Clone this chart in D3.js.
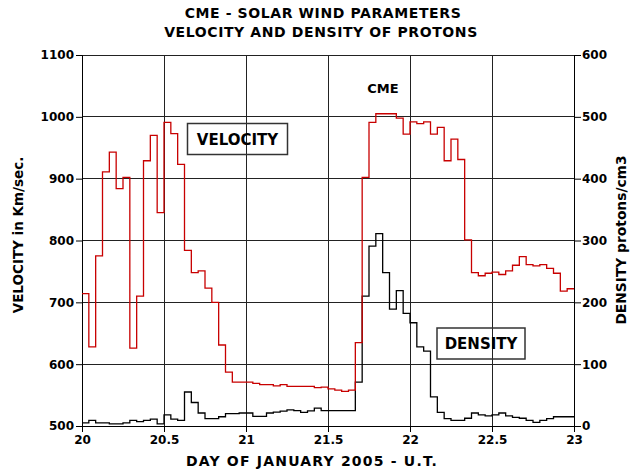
<!DOCTYPE html>
<html>
<head>
<meta charset="utf-8">
<script src="https://cdn.jsdelivr.net/npm/d3@7"></script>
<style>
  body { margin: 0; background: #fff; }
  text { font-family: "DejaVu Sans", sans-serif; font-weight: bold; fill: #000; }
</style>
</head>
<body>
<div id="chart"></div>
<script>
// hourly averages, day 20.0 .. 23.0 (January 2005)
const velocity = [714, 628, 775, 911, 943, 884, 902, 626, 710, 929,
                  970, 845, 991, 973, 923, 784, 748, 751, 723, 700,
                  631, 587, 571, 571, 571, 569, 567, 567, 565, 567,
                  564, 564, 564, 564, 562, 563, 560, 558, 556, 558,
                  635, 902, 991, 1005, 1005, 1005, 998, 972, 992, 989,
                  992, 972, 983, 929, 964, 931, 801, 748, 743, 747,
                  749, 745, 751, 760, 774, 761, 759, 761, 755, 747, 718, 722];
const density = [5, 9, 5, 5, 3.5, 3.5, 5, 9, 7, 9,
                 11, 3.5, 18, 11, 9, 55, 38, 21, 12, 12,
                 15, 20, 20, 21, 21, 15.5, 15.5, 21, 22.5, 24,
                 26, 25, 22, 24.5, 29, 25, 25, 25, 25, 25,
                 71, 210, 291, 311, 248, 189, 219, 182, 167, 128,
                 121, 47, 22, 12, 9, 9, 12.5, 21, 18, 16.5,
                 18, 21, 16.5, 14, 12.5, 9, 6, 9, 12, 15, 15, 15];
const dayTicks = [20, 20.5, 21, 21.5, 22, 22.5, 23];
const velTicks = [500, 600, 700, 800, 900, 1000, 1100];
const denTicks = [0, 100, 200, 300, 400, 500, 600];

const W = 634, H = 470;
const margin = { top: 55, right: 60, bottom: 44, left: 82 };

const svg = d3.select("#chart").append("svg")
    .attr("width", W)
    .attr("height", H);

const x = d3.scaleLinear().domain([20, 23]).range([margin.left, W - margin.right]);
const yV = d3.scaleLinear().domain([500, 1100]).range([H - margin.bottom, margin.top]);
const yD = d3.scaleLinear().domain([0, 600]).range([H - margin.bottom, margin.top]);

// step series: each value holds for one hour, last one repeated to close at 23.0
const toSteps = vals => vals.map((v, i) => [20 + i / 24, v]).concat([[23, vals[vals.length - 1]]]);

// grid
const grid = svg.append("g").attr("stroke", "#222").attr("stroke-width", 1)
    .attr("shape-rendering", "crispEdges");
grid.selectAll("line.h").data(velTicks).enter().append("line")
    .attr("x1", x(20)).attr("x2", x(23))
    .attr("y1", d => yV(d)).attr("y2", d => yV(d));
grid.selectAll("line.v").data(dayTicks).enter().append("line")
    .attr("x1", d => x(d)).attr("x2", d => x(d))
    .attr("y1", yV(500)).attr("y2", yV(1100));

// axes
const axL = svg.append("g").attr("transform", `translate(${margin.left},0)`)
    .call(d3.axisLeft(yV).tickValues(velTicks).tickFormat(d3.format("d")).tickSize(6).tickPadding(2));
const axR = svg.append("g").attr("transform", `translate(${W - margin.right},0)`)
    .call(d3.axisRight(yD).tickValues(denTicks).tickFormat(d3.format("d")).tickSize(7).tickPadding(1));
const axB = svg.append("g").attr("transform", `translate(0,${H - margin.bottom})`)
    .call(d3.axisBottom(x).tickValues(dayTicks).tickFormat(d3.format("")).tickSize(6).tickPadding(3));
[axL, axR, axB].forEach(a => {
  a.selectAll("path,line").attr("stroke", "#000");
  a.selectAll("text").attr("font-size", 12).attr("font-family", "DejaVu Sans").attr("font-weight", "bold");
});

// lines
const lineV = d3.line().x(d => x(d[0])).y(d => yV(d[1])).curve(d3.curveStepAfter);
const lineD = d3.line().x(d => x(d[0])).y(d => yD(d[1])).curve(d3.curveStepAfter);

svg.append("path").datum(toSteps(density))
    .attr("d", lineD).attr("fill", "none")
    .attr("stroke", "#000").attr("stroke-width", 1.3);
svg.append("path").datum(toSteps(velocity))
    .attr("d", lineV).attr("fill", "none")
    .attr("stroke", "#c80000").attr("stroke-width", 1.3);

// legend boxes
function labelBox(cx, cy, w, h, txt) {
  svg.append("rect").attr("x", cx - w / 2).attr("y", cy - h / 2)
      .attr("width", w).attr("height", h)
      .attr("fill", "none").attr("stroke", "#333").attr("stroke-width", 1.5);
  svg.append("text").attr("x", cx).attr("y", cy + 5.5)
      .attr("text-anchor", "middle").attr("font-size", 15).text(txt);
}
labelBox(237.5, 139, 100, 31, "VELOCITY");
labelBox(481, 343.5, 88, 31, "DENSITY");

svg.append("text").attr("x", 383).attr("y", 93)
    .attr("text-anchor", "middle").attr("font-size", 13).text("CME");

// titles
svg.append("text").attr("x", 323).attr("y", 18)
    .attr("text-anchor", "middle").attr("font-size", 14).attr("letter-spacing", 0.6)
    .text("CME - SOLAR WIND PARAMETERS");
svg.append("text").attr("x", 321).attr("y", 37)
    .attr("text-anchor", "middle").attr("font-size", 14).attr("letter-spacing", 0.6)
    .text("VELOCITY AND DENSITY OF PROTONS");
svg.append("text").attr("x", 312).attr("y", 466)
    .attr("text-anchor", "middle").attr("font-size", 14).attr("letter-spacing", 1.2)
    .text("DAY OF JANUARY 2005 - U.T.");
svg.append("text").attr("transform", "translate(23,235) rotate(-90)")
    .attr("text-anchor", "middle").attr("font-size", 13.5).text("VELOCITY in Km/sec.");
svg.append("text").attr("transform", "translate(626,240) rotate(-90)")
    .attr("text-anchor", "middle").attr("font-size", 13.8).text("DENSITY protons/cm3");
</script>
</body>
</html>
